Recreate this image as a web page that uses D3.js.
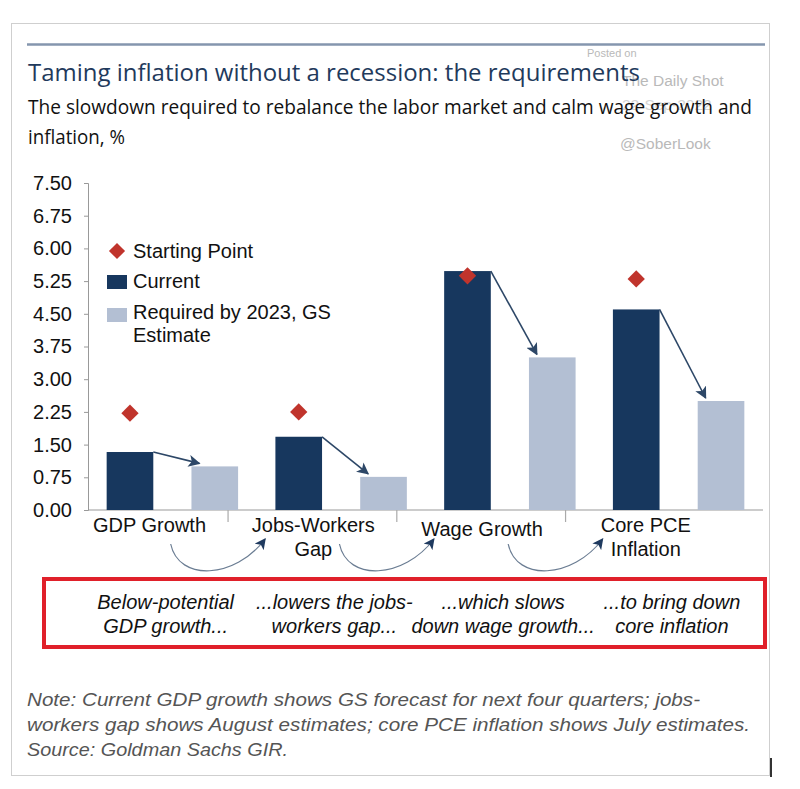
<!DOCTYPE html>
<html><head><meta charset="utf-8">
<script src="https://cdn.jsdelivr.net/npm/d3@7"></script>
<style>body{margin:0;background:#fff;} svg{display:block;}</style>
</head><body>
<svg id="c" width="800" height="789"></svg>
<script>
// ---- data ----
const categories = ["GDP Growth", "Jobs-Workers Gap", "Wage Growth", "Core PCE Inflation"];
const categoryLines = [["GDP Growth"], ["Jobs-Workers", "Gap"], ["Wage Growth"], ["Core PCE", "Inflation"]];
const currentValues = [1.33, 1.68, 5.48, 4.6];
const requiredValues = [1.0, 0.76, 3.5, 2.5];
const startingPoint = [2.22, 2.25, 5.37, 5.3];
const yTicks = [0, 0.75, 1.5, 2.25, 3.0, 3.75, 4.5, 5.25, 6.0, 6.75, 7.5];
const seriesNames = ["Starting Point", "Current", "Required by 2023, GS Estimate"];
const boxTexts = [["Below-potential", "GDP growth..."], ["...lowers the jobs-", "workers gap..."], ["...which slows", "down wage growth..."], ["...to bring down", "core inflation"]];
const titleText = "Taming inflation without a recession: the requirements";
const subtitleLines = ["The slowdown required to rebalance the labor market and calm wage growth and", "inflation, %"];
const noteLines = ["Note: Current GDP growth shows GS forecast for next four quarters; jobs-", "workers gap shows August estimates; core PCE inflation shows July estimates.", "Source: Goldman Sachs GIR."];

const NAVY = "#17375e", LIGHT = "#b3bfd3", RED = "#c0342c", ARROW = "#2d4767";
const svg = d3.select("#c");
const F = "'Liberation Sans', Arial, sans-serif";

// frame
svg.append("rect").attr("x", 11.5).attr("y", 23.5).attr("width", 758).attr("height", 752)
  .attr("fill", "#fff").attr("stroke", "#cfcfcf").attr("stroke-width", 1);
svg.append("line").attr("x1", 771).attr("x2", 771).attr("y1", 758).attr("y2", 777).attr("stroke", "#333").attr("stroke-width", 2);
svg.append("line").attr("x1", 27).attr("x2", 765).attr("y1", 44.5).attr("y2", 44.5).attr("stroke", "#8596ae").attr("stroke-width", 2.5);

// watermark
const wm = svg.append("g").attr("font-family", F).attr("fill", "#b9b9b9");
wm.append("text").attr("x", 587).attr("y", 57).attr("font-size", 11).text("Posted on");
wm.append("text").attr("x", 622).attr("y", 86).attr("font-size", 15.5).text("The Daily Shot");
wm.append("text").attr("x", 622).attr("y", 110).attr("font-size", 15.5).attr("fill", "#d4d4d4").text("22-Sep-2022");
wm.append("text").attr("x", 620).attr("y", 149).attr("font-size", 15.5).text("@SoberLook");

// titles
svg.append("text").attr("x", 28).attr("y", 81).attr("font-family", "'Open Sans', sans-serif")
  .attr("font-size", 23.5).attr("fill", "#1f3a5c").attr("textLength", 612).attr("lengthAdjust", "spacingAndGlyphs").text(titleText);
subtitleLines.forEach((t, i) => {
  const s = svg.append("text").attr("x", 28).attr("y", 114 + i * 30).attr("font-family", "'Open Sans', sans-serif")
    .attr("font-size", 19.5).attr("fill", "#111").text(t);
  s.attr("textLength", i === 0 ? 724 : 97).attr("lengthAdjust", "spacingAndGlyphs");
});

// scales
const y = d3.scaleLinear().domain([0, 7.5]).range([510, 183]);
const x = d3.scaleBand().domain(categories).range([88, 763]).padding(0);
const sub = d3.scaleBand().domain(["current", "required"]).range([0, x.bandwidth()]).paddingInner(0.45).paddingOuter(0.22);
const bw = x.bandwidth();

// y axis
const yAxis = svg.append("g").attr("transform", "translate(88,0)")
  .call(d3.axisLeft(y).tickValues(yTicks).tickFormat(d3.format(".2f")).tickSize(4).tickPadding(12));
yAxis.select(".domain").attr("stroke", "#999");
yAxis.selectAll(".tick line").attr("stroke", "#999");
yAxis.selectAll("text").attr("font-family", F).attr("font-size", 20).attr("fill", "#111");

// x axis baseline & ticks
svg.append("line").attr("x1", 88).attr("x2", 763).attr("y1", y(0)).attr("y2", y(0)).attr("stroke", "#999").attr("stroke-width", 1.2);
svg.selectAll(".xt").data(categories.slice(0, 3)).join("line")
  .attr("x1", d => x(d) + bw * 0.83).attr("x2", d => x(d) + bw * 0.83)
  .attr("y1", y(0)).attr("y2", y(0) + 12).attr("stroke", "#aaa").attr("stroke-width", 1.2);

// defs for arrowheads
const defs = svg.append("defs");
defs.append("marker").attr("id", "ah").attr("viewBox", "0 0 10 10").attr("refX", 9).attr("refY", 5)
  .attr("markerWidth", 12).attr("markerHeight", 12).attr("markerUnits", "userSpaceOnUse").attr("orient", "auto")
  .append("path").attr("d", "M0,0 L10,5 L0,10 L2.5,5 Z").attr("fill", ARROW);
defs.append("marker").attr("id", "ah2").attr("viewBox", "0 0 10 10").attr("refX", 9).attr("refY", 5)
  .attr("markerWidth", 11).attr("markerHeight", 11).attr("markerUnits", "userSpaceOnUse").attr("orient", "auto")
  .append("path").attr("d", "M0,0 L10,5 L0,10 L2.5,5 Z").attr("fill", "#1f3a5f");

// bars
const g = svg.append("g");
g.selectAll(".cur").data(categories).join("rect")
  .attr("x", d => x(d) + sub("current")).attr("width", sub.bandwidth())
  .attr("y", (d, i) => y(currentValues[i])).attr("height", (d, i) => y(0) - y(currentValues[i])).attr("fill", NAVY);
g.selectAll(".req").data(categories).join("rect")
  .attr("x", d => x(d) + sub("required")).attr("width", sub.bandwidth())
  .attr("y", (d, i) => y(requiredValues[i])).attr("height", (d, i) => y(0) - y(requiredValues[i])).attr("fill", LIGHT);

// arrows from current to required
g.selectAll(".arr").data(categories).join("line")
  .attr("x1", d => x(d) + sub("current") + sub.bandwidth()).attr("y1", (d, i) => y(currentValues[i]))
  .attr("x2", d => x(d) + sub("required") + sub.bandwidth() * 0.17).attr("y2", (d, i) => y(requiredValues[i]) - 3)
  .attr("stroke", ARROW).attr("stroke-width", 1.6).attr("marker-end", "url(#ah)");

// diamonds
const diamond = d3.symbol().type(d3.symbolSquare).size(150);
g.selectAll(".dia").data(categories).join("path")
  .attr("d", diamond)
  .attr("transform", (d, i) => `translate(${x(d) + sub("current") + sub.bandwidth() / 2},${y(startingPoint[i])}) rotate(45)`)
  .attr("fill", RED);

// category labels
categories.forEach((c, i) => {
  const cx = x(c) + bw * 0.335 + (i === 0 ? 5 : 0) - (i === 3 ? 5 : 0);
  const yy = i === 2 ? 536 : 532;
  categoryLines[i].forEach((t, j) => {
    svg.append("text").attr("x", cx).attr("y", yy + j * 24).attr("text-anchor", "middle")
      .attr("font-family", F).attr("font-size", 20).attr("fill", "#111").text(t);
  });
});

// curved arrows between labels
for (let i = 0; i < 3; i++) {
  const sx = x(categories[i]) + bw * 0.49, sy = 544;
  const ex = x(categories[i + 1]) + bw * 0.05, ey = 539;
  const p = d3.path();
  p.moveTo(sx, sy);
  p.bezierCurveTo(sx + 8, sy + 38, ex - 30, ey + 40, ex, ey);
  svg.append("path").attr("d", p.toString()).attr("fill", "none").attr("stroke", "#6b7d93").attr("stroke-width", 1.2)
    .attr("marker-end", "url(#ah2)");
}

// legend
const lg = svg.append("g").attr("font-family", F).attr("font-size", 20).attr("fill", "#111");
lg.append("path").attr("d", d3.symbol().type(d3.symbolSquare).size(130)).attr("transform", "translate(117,251) rotate(45)").attr("fill", RED);
lg.append("text").attr("x", 133).attr("y", 258).text(seriesNames[0]);
lg.append("rect").attr("x", 107).attr("y", 275).attr("width", 20).attr("height", 14).attr("fill", NAVY);
lg.append("text").attr("x", 133).attr("y", 288).text(seriesNames[1]);
lg.append("rect").attr("x", 107).attr("y", 308).attr("width", 20).attr("height", 14).attr("fill", LIGHT);
lg.append("text").attr("x", 133).attr("y", 319).text("Required by 2023, GS");
lg.append("text").attr("x", 133).attr("y", 342).text("Estimate");

// red box
svg.append("rect").attr("x", 44).attr("y", 579).attr("width", 721).attr("height", 68)
  .attr("fill", "none").attr("stroke", "#e0202a").attr("stroke-width", 4);
boxTexts.forEach((lines, i) => {
  const cx = x(categories[i]) + bw * 0.46;
  lines.forEach((t, j) => {
    svg.append("text").attr("x", cx).attr("y", 609 + j * 24).attr("text-anchor", "middle")
      .attr("font-family", F).attr("font-style", "italic").attr("font-size", 20).attr("fill", "#111").text(t);
  });
});

// note
const noteWidths = [673, 723, 261];
noteLines.forEach((t, i) => {
  svg.append("text").attr("x", 27).attr("y", 706 + i * 25).attr("font-family", F).attr("font-style", "italic")
    .attr("font-size", 17.5).attr("fill", "#555").attr("textLength", noteWidths[i]).attr("lengthAdjust", "spacingAndGlyphs").text(t);
});
</script>
</body></html>
